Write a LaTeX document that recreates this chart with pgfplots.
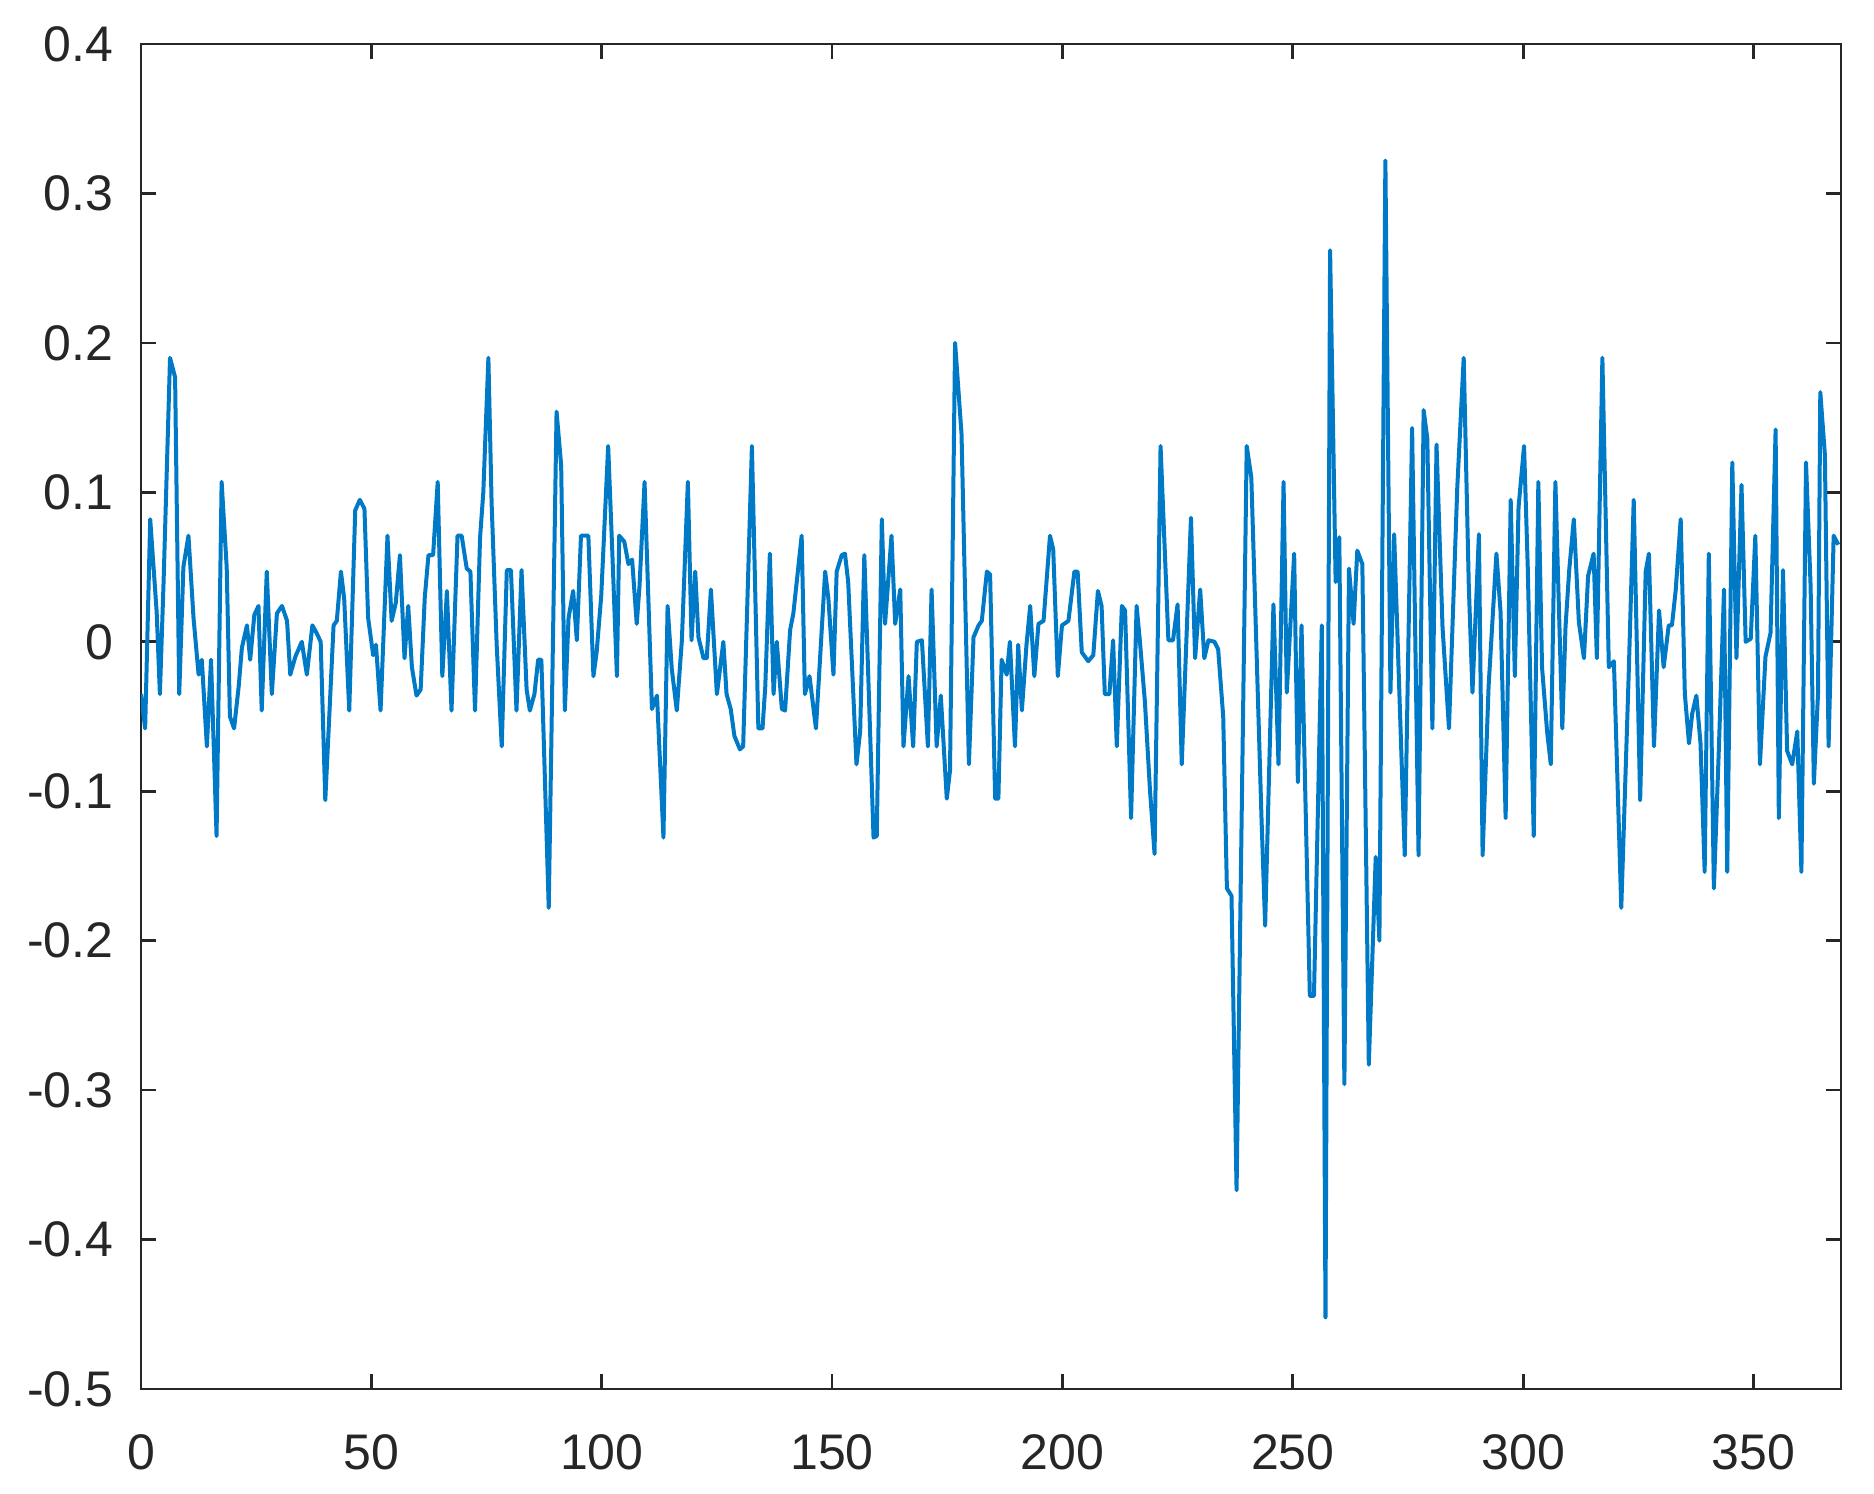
\documentclass[border=0pt]{standalone}
\usepackage{fontspec}
\setmainfont{Liberation Sans}
\usepackage{pgfplots}
\pgfplotsset{compat=1.18}
\definecolor{mblue}{RGB}{0,122,198}
\definecolor{axgray}{RGB}{38,38,38}

\begin{document}
\begin{tikzpicture}
\useasboundingbox (-28.2pt,-21pt) rectangle (346.6pt,277.8pt);
\begin{axis}[
  at={(0,0)}, anchor=south west,
  scale only axis,
  width=340pt, height=269pt,
  xmin=0, xmax=369,
  ymin=-0.5, ymax=0.4,
  xtick={0,50,...,350},
  ytick={-0.5,-0.4,-0.3,-0.2,-0.1,0,0.1,0.2,0.3,0.4},
  yticklabels={-0.5,-0.4,-0.3,-0.2,-0.1,0,0.1,0.2,0.3,0.4},
  tick align=inside,
  major tick length=3pt,
  axis line style={axgray, line width=0.55pt},
  every tick/.style={axgray, line width=0.55pt},
  tick label style={font=\fontsize{10}{12}\selectfont, text=axgray},
  xticklabel style={yshift=-5.5pt},
  yticklabel style={xshift=-2pt},
  /pgf/number format/assume math mode=true,
]
\addplot[mblue, line width=0.8pt, line join=round] coordinates {
(0,-0.035)(0.9,-0.058)(2.0,0.082)(3.4,0.02)(4.1,-0.035)(4.9,0.04)(6.3,0.19)(7.4,0.177)(8.3,-0.035)(9.2,0.05)
(10.3,0.071)(11.4,0.016)(12.5,-0.022)(13.2,-0.012)(14.3,-0.07)(15.2,-0.012)(16.4,-0.13)(17.5,0.107)(18.6,0.05)(19.3,-0.05)
(20.2,-0.058)(21.2,-0.03)(21.9,-0.004)(23.0,0.011)(23.7,-0.012)(24.6,0.018)(25.5,0.024)(26.2,-0.046)(27.3,0.047)(28.4,-0.035)
(29.5,0.019)(30.6,0.024)(31.7,0.014)(32.4,-0.022)(33.5,-0.01)(34.9,0.0)(36.0,-0.022)
(37.2,0.011)(38.1,0.006)(39.0,0.0)(40.0,-0.106)(41.8,0.011)(42.5,0.014)(43.4,0.047)(44.1,0.029)(45.2,-0.046)(46.5,0.088)
(47.5,0.095)(48.5,0.089)(49.3,0.016)(50.4,-0.009)(51.0,-0.002)(52.0,-0.046)(53.5,0.071)(54.4,0.014)(55.3,0.026)(56.2,0.058)
(57.2,-0.011)(58.0,0.024)(58.8,-0.017)(59.8,-0.036)(60.7,-0.032)(61.6,0.03)(62.4,0.058)(63.4,0.058)(64.4,0.107)(65.4,-0.023)
(66.4,0.034)(67.4,-0.046)(68.7,0.071)(69.6,0.071)(70.7,0.049)(71.5,0.047)(72.5,-0.046)
(73.6,0.07)(74.3,0.1)(75.4,0.19)(76.1,0.093)(77.2,-0.002)(78.3,-0.07)(79.4,0.048)(80.3,0.048)(81.5,-0.046)(82.6,0.048)
(83.7,-0.032)(84.4,-0.046)(85.4,-0.035)(86.2,-0.012)(86.9,-0.012)(88.5,-0.178)(90.2,0.154)(91.2,0.118)(92.0,-0.046)(92.8,0.016)
(93.8,0.034)(94.6,0.001)(95.5,0.071)(97.1,0.071)(98.2,-0.023)(98.9,-0.007)(99.9,0.031)(101.4,0.131)(102.3,0.06)(103.3,-0.023)
(103.8,0.071)(104.9,0.067)(105.8,0.052)(106.6,0.055)(107.6,0.012)(108.2,0.037)(109.3,0.107)
(110.9,-0.045)(112.0,-0.036)(113.4,-0.131)(114.3,0.024)(115.2,-0.018)(116.3,-0.046)(117.4,0.001)(118.7,0.107)(119.5,0.001)(120.3,0.047)
(121.0,0.003)(122.1,-0.011)(122.8,-0.011)(123.7,0.035)(125.0,-0.035)(126.4,0.0)(127.1,-0.035)(128.0,-0.045)(128.8,-0.063)(130.0,-0.072)
(130.7,-0.07)(132.6,0.131)(134.0,-0.058)(134.9,-0.058)(135.5,-0.03)(136.5,0.059)(137.3,-0.035)(138.0,0.0)(139.1,-0.045)(139.8,-0.046)
(140.9,0.008)(141.6,0.019)(143.4,0.071)(144.1,-0.035)(145.1,-0.023)(146.5,-0.058)
(148.5,0.047)(149.2,0.029)(150.3,-0.022)(151.0,0.047)(152.1,0.058)(152.8,0.059)(153.5,0.04)(155.3,-0.082)(156.1,-0.06)(157.0,0.058)
(159.0,-0.131)(159.7,-0.13)(160.8,0.082)(161.5,0.012)(162.9,0.071)(163.7,0.012)(164.8,0.035)(165.5,-0.07)(166.6,-0.023)(167.6,-0.07)
(168.4,0.0)(169.5,0.001)(170.8,-0.07)(171.6,0.035)(172.7,-0.07)(173.6,-0.036)(174.9,-0.105)(175.6,-0.086)(176.7,0.2)(178.1,0.139)
(179.7,-0.082)(180.7,0.003)(181.8,0.011)(182.5,0.014)(183.6,0.047)
(184.3,0.045)(185.4,-0.105)(186.1,-0.105)(186.8,-0.012)(187.9,-0.022)(188.6,0.0)(189.7,-0.07)(190.4,-0.002)(191.2,-0.046)(192.2,-0.002)
(193.0,0.024)(193.9,-0.023)(194.8,0.012)(195.9,0.014)(197.3,0.071)(198.0,0.062)(199.0,-0.023)(199.9,0.011)(201.3,0.014)(202.6,0.047)
(203.3,0.047)(204.2,-0.007)(205.6,-0.013)(206.7,-0.009)(207.7,0.034)(208.5,0.024)(209.2,-0.035)(210.2,-0.035)(211.0,0.001)(211.8,-0.07)
(212.9,0.024)(213.6,0.021)(214.9,-0.118)(216.1,0.024)(216.8,0.001)(217.9,-0.04)(219.0,-0.099)(220.0,-0.142)(221.3,0.131)
(223.0,0.001)(224.0,0.001)(225.0,0.025)(225.9,-0.082)(227.9,0.083)(228.8,-0.011)(229.9,0.035)(230.8,-0.011)(231.7,0.001)(233.0,0.0)
(233.8,-0.005)(234.9,-0.05)(235.7,-0.165)(236.7,-0.17)(237.8,-0.367)(240.0,0.131)(241.0,0.11)(241.8,0.028)(243.2,-0.117)(244.0,-0.19)
(245.8,0.025)(246.9,-0.082)(248.0,0.107)(248.7,-0.034)(250.3,0.059)(251.1,-0.094)(251.9,0.011)(253.7,-0.237)(254.6,-0.237)(256.3,0.011)
(257.1,-0.452)(258.1,0.262)
(259.3,0.04)(260.1,0.07)(261.2,-0.296)(262.2,0.049)(263.2,0.012)(264.0,0.061)(265.1,0.052)(266.5,-0.283)(268.0,-0.144)(268.8,-0.2)
(270.1,0.322)(271.2,-0.034)(272.0,0.072)(274.3,-0.143)(275.9,0.143)(277.3,-0.143)(278.4,0.155)(279.2,0.136)(280.3,-0.058)(281.2,0.132)
(282.5,0.01)(283.9,-0.058)(285.7,0.103)(287.1,0.19)(288.2,0.038)(289.0,-0.034)(290.4,0.072)(291.2,-0.143)(292.5,-0.03)(294.2,0.059)
(295.1,0.02)(296.2,-0.118)(297.3,0.095)(298.2,-0.023)(299.0,0.09)(300.2,0.131)(301.0,0.05)(302.3,-0.13)(303.3,0.107)(304.1,-0.017)
(305.2,-0.06)(306.0,-0.082)(307.0,0.107)(308.5,-0.058)(309.2,0.01)(310.0,0.048)(311.0,0.082)(312.1,0.013)(313.2,-0.011)(314.1,0.044)
(315.3,0.059)(316.0,-0.011)(317.2,0.19)(318.6,-0.017)(319.7,-0.013)(321.3,-0.178)(322.9,-0.023)(324.0,0.095)(325.4,-0.106)(326.6,0.047)
(327.3,0.059)(328.4,-0.07)(329.5,0.021)(330.5,-0.017)(331.6,0.011)
(332.3,0.011)(333.1,0.034)(334.2,0.082)(335.1,-0.035)(336.0,-0.068)(336.7,-0.048)(337.6,-0.036)(338.5,-0.068)(339.4,-0.154)(340.3,0.059)
(341.4,-0.165)(342.5,-0.07)(343.6,0.035)(344.3,-0.154)(345.4,0.12)(346.3,-0.011)(347.4,0.105)(348.3,0.0)(349.4,0.002)(350.4,0.071)
(351.4,-0.082)(352.6,-0.01)(353.7,0.006)(354.8,0.142)(355.5,-0.118)(356.4,0.048)(357.3,-0.073)(358.4,-0.082)(359.5,-0.06)(360.4,-0.154)
(361.4,0.12)(362.4,0.037)(363.1,-0.095)(364.0,-0.035)(364.5,0.167)(365.5,0.125)(366.3,-0.07)(367.4,0.071)(368.4,0.065)
};
\end{axis}
\end{tikzpicture}
\end{document}
